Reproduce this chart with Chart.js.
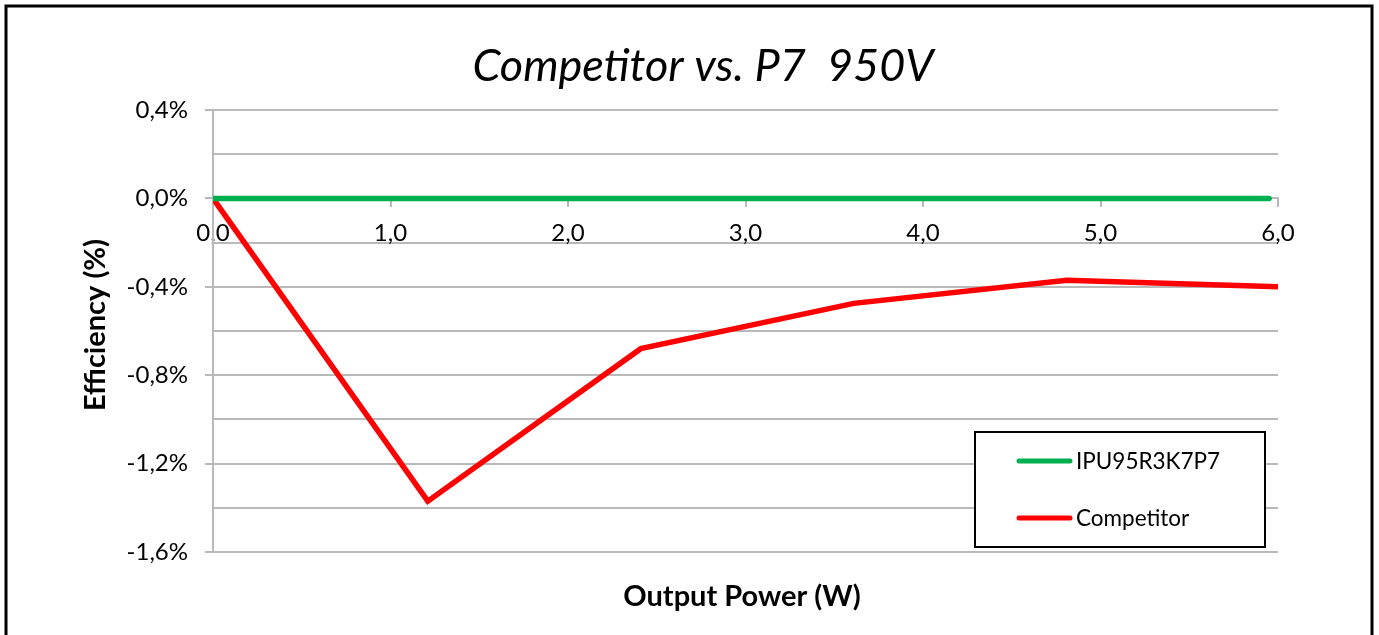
<!DOCTYPE html>
<html>
<head>
<meta charset="utf-8">
<script src="https://cdn.jsdelivr.net/npm/chart.js@4.4.1/dist/chart.umd.min.js"></script>
<style>
    html, body { margin: 0; padding: 0; background: #fff; }
    #wrap { width: 1379px; height: 635px; }
</style>
</head>
<body>
<div id="wrap"><canvas id="effChart" width="1379" height="635"></canvas></div>
<script>
// Chart data
const chartTitle = 'Competitor vs. P7  950V';
const seriesNames = ['IPU95R3K7P7', 'Competitor'];
const seriesColors = ['#00B050', '#FF0000'];
const ipuPower = [0, 1.2, 2.4, 3.6, 4.8, 5.95];
const ipuEff = [0, 0, 0, 0, 0, 0];
const compPower = [0, 1.21, 2.41, 3.61, 4.81, 6.0];
const compEff = [0, -1.37, -0.68, -0.475, -0.37, -0.40];
const yMin = -1.6, yMax = 0.4, yGridStep = 0.2, yLabelStep = 0.4;
const xMin = 0, xMax = 6, xStep = 1;

const FONT = 'Lato, "Open Sans", sans-serif';
const GRID = '#b9b9b9';

function toPoints(xs, ys) {
    return xs.map((x, i) => ({ x: x, y: ys[i] }));
}

function isLabelTick(v) {
    const k = Math.round(v / yLabelStep);
    return Math.abs(k * yLabelStep - v) < 1e-6;
}

// title, axis titles, legend box and outer frame
const decorPlugin = {
    id: 'decor',
    afterDraw(chart) {
        const ctx = chart.ctx;
        ctx.save();
        ctx.fillStyle = '#000';
        ctx.textAlign = 'center';
        ctx.textBaseline = 'alphabetic';
        ctx.font = 'italic 45px ' + FONT;
        ctx.fillText(chartTitle, 703, 81);

        ctx.font = 'bold 29px ' + FONT;
        ctx.fillText('Output Power (W)', 742, 606);

        ctx.save();
        ctx.translate(105, 325);
        ctx.rotate(-Math.PI / 2);
        ctx.fillText('Efficiency (%)', 0, 0);
        ctx.restore();

        // legend
        ctx.fillStyle = '#fff';
        ctx.fillRect(975, 432, 290, 115);
        ctx.strokeStyle = '#000';
        ctx.lineWidth = 2;
        ctx.strokeRect(975, 432, 290, 115);
        const rows = [461, 518];
        ctx.font = '22.5px ' + FONT;
        ctx.textAlign = 'left';
        ctx.textBaseline = 'middle';
        chart.data.datasets.forEach((ds, i) => {
            ctx.strokeStyle = ds.borderColor;
            ctx.lineWidth = 5;
            ctx.lineCap = 'round';
            ctx.beginPath();
            ctx.moveTo(1019, rows[i]);
            ctx.lineTo(1070, rows[i]);
            ctx.stroke();
            ctx.fillStyle = '#000';
            ctx.fillText(ds.label, 1076, rows[i] + 1);
        });

        // outer frame
        ctx.strokeStyle = '#000';
        ctx.lineWidth = 3;
        ctx.lineCap = 'butt';
        ctx.strokeRect(6, 6, 1366, 700);
        ctx.restore();
    }
};

const chart = new Chart(document.getElementById('effChart'), {
    type: 'line',
    data: {
        datasets: [{
            label: seriesNames[0],
            data: toPoints(ipuPower, ipuEff),
            borderColor: seriesColors[0],
            borderWidth: 5.5,
            borderCapStyle: 'round',
            borderJoinStyle: 'round',
            pointRadius: 0,
            tension: 0
        }, {
            label: seriesNames[1],
            data: toPoints(compPower, compEff),
            borderColor: seriesColors[1],
            borderWidth: 5.5,
            borderCapStyle: 'butt',
            borderJoinStyle: 'miter',
            pointRadius: 0,
            tension: 0
        }]
    },
    options: {
        responsive: false,
        animation: false,
        devicePixelRatio: 1,
        layout: { padding: { left: 7, top: 110, right: 101, bottom: 83 } },
        plugins: {
            legend: { display: false },
            title: { display: false },
            tooltip: { enabled: false }
        },
        scales: {
            x: {
                type: 'linear',
                position: { y: 0 },
                min: xMin,
                max: xMax,
                border: { color: GRID, width: 2 },
                grid: { drawOnChartArea: false, color: GRID, lineWidth: 2, tickLength: 8 },
                ticks: {
                    stepSize: xStep,
                    color: '#000',
                    padding: 12,
                    maxRotation: 0,
                    font: { family: FONT, size: 24 },
                    callback: v => v.toFixed(1).replace('.', ',')
                }
            },
            y: {
                min: yMin,
                max: yMax,
                afterFit(scale) { scale.width = 206; },
                border: { color: GRID, width: 2 },
                grid: {
                    color: GRID,
                    lineWidth: 2,
                    tickLength: 8,
                    tickColor: c => isLabelTick(c.tick.value) ? GRID : 'rgba(0,0,0,0)'
                },
                ticks: {
                    stepSize: yGridStep,
                    color: '#000',
                    padding: 17,
                    font: { family: FONT, size: 24 },
                    callback: v => isLabelTick(v) ? v.toFixed(1).replace('.', ',').replace('-0,0', '0,0') + '%' : ''
                }
            }
        }
    },
    plugins: [decorPlugin]
});
</script>
</body>
</html>
